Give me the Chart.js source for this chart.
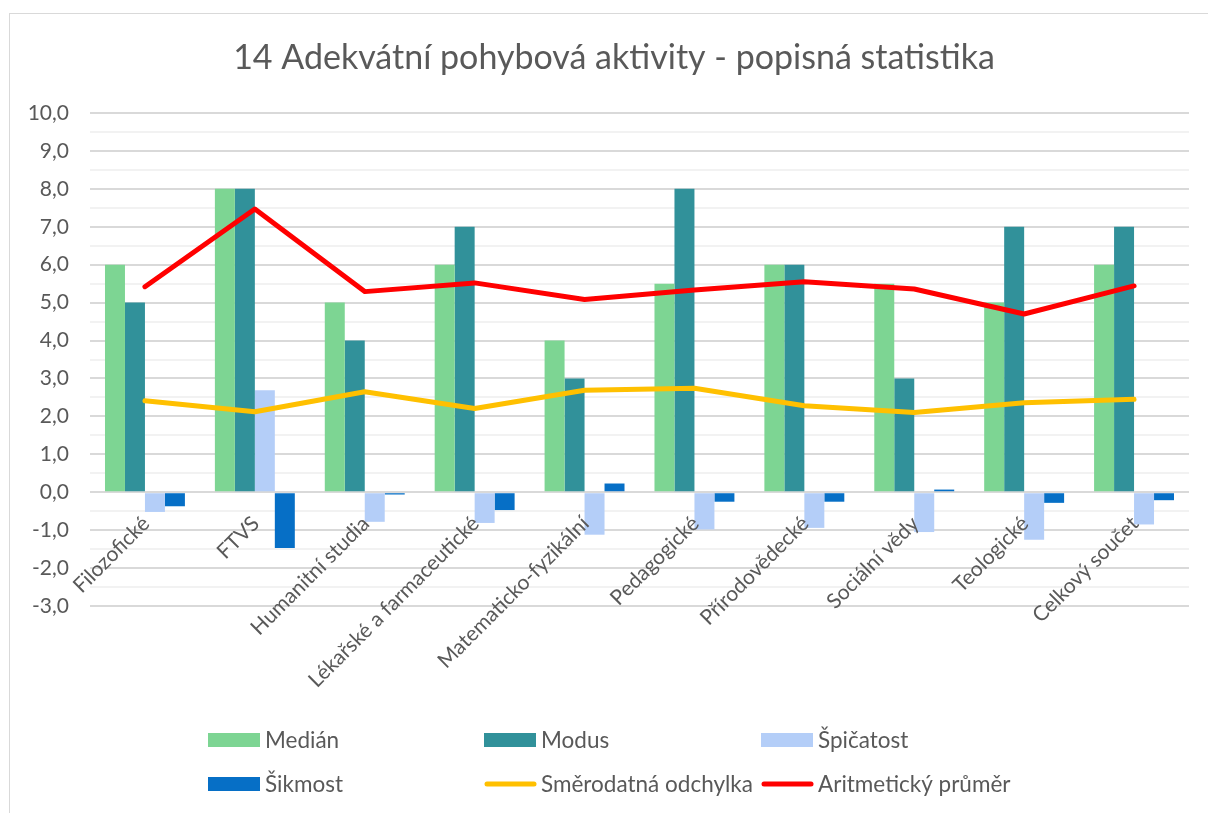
<!DOCTYPE html>
<html>
<head>
<meta charset="utf-8">
<script src="https://cdn.jsdelivr.net/npm/chart.js@4.4.1/dist/chart.umd.min.js"></script>
<style>
  html, body { margin: 0; padding: 0; background: #fff; }
  #wrap { position: relative; width: 1208px; height: 813px; overflow: hidden; }
  canvas { display: block; }
</style>
</head>
<body>
<div id="wrap"><canvas id="c" width="1208" height="813"></canvas></div>
<script>
const chartTitle = '14 Adekvátní pohybová aktivity - popisná statistika';
const categories = ['Filozofické', 'FTVS', 'Humanitní studia', 'Lékařské a farmaceutické', 'Matematicko-fyzikální', 'Pedagogické', 'Přírodovědecké', 'Sociální vědy', 'Teologické', 'Celkový součet'];
const median    = [6, 8, 5, 6, 4, 5.5, 6, 5.5, 5, 6];
const modus     = [5, 8, 4, 7, 3, 8, 6, 3, 7, 7];
const spicatost = [-0.52, 2.69, -0.78, -0.81, -1.12, -0.98, -0.94, -1.05, -1.25, -0.85];
const sikmost   = [-0.37, -1.47, -0.06, -0.47, 0.23, -0.25, -0.25, 0.07, -0.28, -0.21];
const smerOdch  = [2.41, 2.12, 2.65, 2.21, 2.69, 2.74, 2.28, 2.10, 2.36, 2.45];
const prumer    = [5.42, 7.47, 5.29, 5.52, 5.08, 5.33, 5.55, 5.36, 4.70, 5.44];
const yMin = -3, yMax = 10, yStep = 0.5;

const TEXT = '#595959';
const FONT = 'Lato, "Open Sans", sans-serif';

const decorPlugin = {
  id: 'decor',
  beforeDraw(chart) {
    const ctx = chart.ctx;
    ctx.save();
    ctx.fillStyle = '#fff';
    ctx.fillRect(0, 0, chart.width, chart.height);
    ctx.strokeStyle = '#D9D9D9';
    ctx.lineWidth = 1;
    ctx.strokeRect(9.5, 13.5, 1400, 1000);
    ctx.restore();
  },
  afterDraw(chart) {
    const ctx = chart.ctx;
    const xs = chart.scales.x, ys = chart.scales.y;
    ctx.save();
    // title
    ctx.fillStyle = TEXT;
    ctx.font = '34px ' + FONT;
    ctx.textAlign = 'center';
    ctx.textBaseline = 'middle';
    ctx.fillText(chartTitle, 614, 58);
    // category labels next to zero line
    const y0 = ys.getPixelForValue(0);
    ctx.font = '21px ' + FONT;
    ctx.textAlign = 'right';
    ctx.textBaseline = 'middle';
    chart.data.labels.forEach((lab, i) => {
      const x = xs.getPixelForValue(i);
      ctx.save();
      ctx.translate(x + 1, y0 + 28);
      ctx.rotate(-Math.PI / 4);
      ctx.fillText(lab, 0, 0);
      ctx.restore();
    });
    // legend grid
    const cols = [208, 484, 761], rows = [740, 784];
    ctx.font = '22.5px ' + FONT;
    ctx.textAlign = 'left';
    chart.data.datasets.forEach((ds, i) => {
      const cx = cols[i % 3], cy = rows[Math.floor(i / 3)];
      if (ds.type === 'line') {
        ctx.strokeStyle = ds.borderColor;
        ctx.lineWidth = 5;
        ctx.lineCap = 'round';
        ctx.beginPath();
        ctx.moveTo(cx + 3, cy);
        ctx.lineTo(cx + 50, cy);
        ctx.stroke();
      } else {
        ctx.fillStyle = ds.backgroundColor;
        ctx.fillRect(cx, cy - 7, 52, 14);
      }
      ctx.fillStyle = TEXT;
      ctx.fillText(ds.label, cx + 57, cy + 1);
    });
    ctx.restore();
  }
};

const ds = [
  { type: 'bar', label: 'Medián', data: median, backgroundColor: '#7DD593', order: 2 },
  { type: 'bar', label: 'Modus', data: modus, backgroundColor: '#31919A', order: 2 },
  { type: 'bar', label: 'Špičatost', data: spicatost, backgroundColor: '#B4CEF8', order: 2 },
  { type: 'bar', label: 'Šikmost', data: sikmost, backgroundColor: '#066FC6', order: 2 },
  { type: 'line', label: 'Směrodatná odchylka', data: smerOdch, borderColor: '#FFC000', backgroundColor: '#FFC000', order: 1 },
  { type: 'line', label: 'Aritmetický průměr', data: prumer, borderColor: '#FF0000', backgroundColor: '#FF0000', order: 0 }
];
ds.forEach(d => {
  if (d.type === 'line') {
    Object.assign(d, { borderWidth: 5, pointRadius: 0, tension: 0, fill: false, borderCapStyle: 'round', borderJoinStyle: 'round' });
  } else {
    Object.assign(d, { categoryPercentage: 80 / 110, barPercentage: 1, borderWidth: 0 });
  }
});

new Chart(document.getElementById('c'), {
  data: { labels: categories, datasets: ds },
  options: {
    responsive: false,
    animation: false,
    layout: { padding: { left: 0, top: 113, right: 19, bottom: 207 } },
    plugins: { legend: { display: false }, title: { display: false }, tooltip: { enabled: false } },
    scales: {
      x: { type: 'category', display: false, offset: true },
      y: {
        min: yMin, max: yMax,
        afterFit(s) { s.width = 90; },
        border: { display: false },
        grid: {
          drawTicks: false,
          color: c => (Math.abs(c.tick.value % 1) < 1e-9 ? '#D9D9D9' : '#F2F2F2'),
          lineWidth: 2
        },
        ticks: {
          stepSize: yStep,
          autoSkip: false,
          padding: 21,
          color: TEXT,
          font: { family: FONT, size: 21 },
          callback: v => (Math.abs(v % 1) < 1e-9 ? v.toFixed(1).replace('.', ',') : '')
        }
      }
    }
  },
  plugins: [decorPlugin]
});
</script>
</body>
</html>
